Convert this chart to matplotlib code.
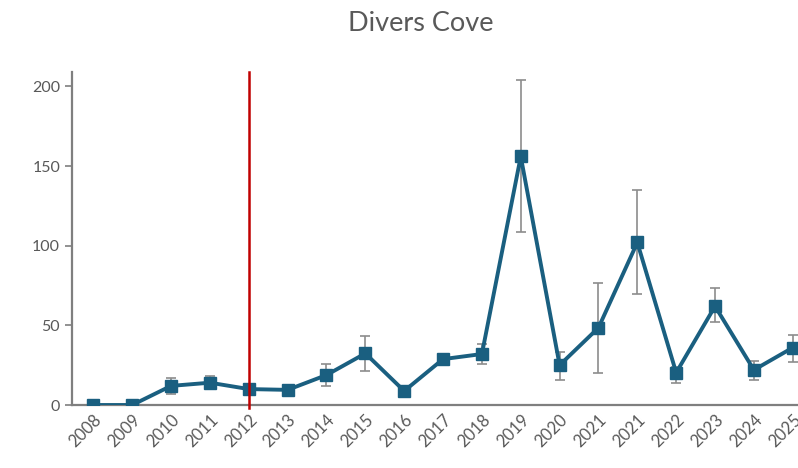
import numpy as np
import matplotlib.pyplot as plt

# Divers Cove yearly values with asymmetric error bars
years = ['2008', '2009', '2010', '2011', '2012', '2013', '2014', '2015', '2016', '2017',
         '2018', '2019', '2020', '2021', '2021', '2022', '2023', '2024', '2025']
values = [0, 0, 12, 14, 10, 9.5, 18.8, 32.4, 8.8, 28.8,
          32, 156, 25, 48.5, 102, 20.3, 62, 22, 36]
err_low = [0, 0, 7, 10, 10, 9.5, 12, 21.3, 8.8, 28.8,
           25.7, 108.7, 16, 20.3, 69.4, 14, 51.8, 16, 27]
err_high = [0, 0, 17, 18, 10, 9.5, 25.5, 43.5, 8.8, 28.8,
            38, 204, 33.4, 76.3, 135, 24, 73.5, 27.6, 44]
marker_year_idx = 4

x = np.arange(len(years))
vals = np.array(values)
yerr = [vals - np.array(err_low), np.array(err_high) - vals]

plt.rcParams['font.family'] = ['Lato', 'DejaVu Sans']

fig = plt.figure(figsize=(7.98, 4.68), dpi=100)
ax = fig.add_axes([0.0902, 0.1346, 0.93, 0.7115])

ax.errorbar(x, vals, yerr=yerr, fmt='none', ecolor='#8c8c8c', elinewidth=1.2,
            capsize=3.5, capthick=1.2, zorder=2)
ax.plot(x, vals, color='#1a5f80', lw=2.8, marker='s', markersize=9, zorder=3)
ax.axvline(marker_year_idx, ymin=-0.01, ymax=1, color='#c00000', lw=1.8,
           zorder=4, clip_on=False)

ax.set_xlim(-0.55, 18.55)
ax.set_ylim(0, 209)
ax.set_yticks([0, 50, 100, 150, 200])
ax.set_xticks(x)
ax.set_xticklabels(years, rotation=45, ha='right', rotation_mode='anchor')

for s in ['top', 'right']:
    ax.spines[s].set_visible(False)
for s in ['left', 'bottom']:
    ax.spines[s].set_color('#7f7f7f')
    ax.spines[s].set_linewidth(1.6)
ax.tick_params(axis='y', colors='#7f7f7f', labelcolor='#595959', labelsize=11.5,
               length=5, width=1.2)
ax.tick_params(axis='x', labelcolor='#595959', labelsize=12, length=0, pad=5)

fig.text(0.527, 0.95, 'Divers Cove', ha='center', va='center',
         fontsize=19.5, color='#595959')

fig.savefig('out.png', dpi=100)
